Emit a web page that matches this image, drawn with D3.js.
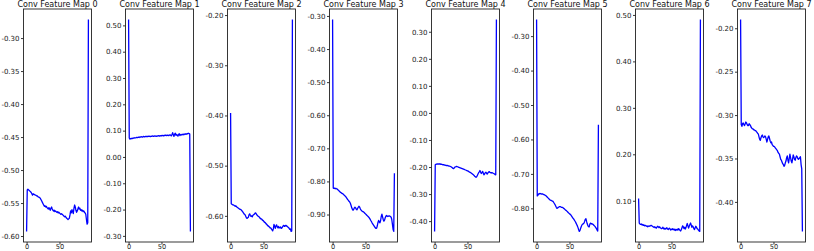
<!DOCTYPE html>
<html><head><meta charset="utf-8">
<script src="https://cdn.jsdelivr.net/npm/d3@7"></script>
<style>body{margin:0;background:#fff}svg{display:block}</style></head>
<body><svg id="c" width="814" height="251"></svg>
<script>
const titles = ["Conv Feature Map 0","Conv Feature Map 1","Conv Feature Map 2","Conv Feature Map 3","Conv Feature Map 4","Conv Feature Map 5","Conv Feature Map 6","Conv Feature Map 7"];
const xTicks = [0, 50];

const series0 = [-0.593,-0.530,-0.529,-0.530,-0.531,-0.532,-0.533,-0.534,-0.536,-0.538,-0.536,-0.537,-0.537,-0.538,-0.538,-0.539,-0.539,-0.540,-0.541,-0.541,-0.542,-0.543,-0.545,-0.547,-0.549,-0.551,-0.553,-0.555,-0.554,-0.556,-0.555,-0.557,-0.558,-0.559,-0.557,-0.559,-0.561,-0.558,-0.556,-0.559,-0.561,-0.562,-0.561,-0.563,-0.562,-0.563,-0.564,-0.563,-0.565,-0.564,-0.565,-0.566,-0.567,-0.566,-0.567,-0.568,-0.569,-0.570,-0.571,-0.570,-0.572,-0.573,-0.574,-0.575,-0.574,-0.573,-0.568,-0.562,-0.565,-0.560,-0.563,-0.566,-0.558,-0.553,-0.556,-0.561,-0.564,-0.562,-0.559,-0.556,-0.559,-0.558,-0.561,-0.560,-0.562,-0.561,-0.563,-0.562,-0.564,-0.565,-0.567,-0.575,-0.582,-0.580,-0.272];
const series1 = [0.522,0.072,0.068,0.070,0.069,0.071,0.070,0.072,0.071,0.073,0.072,0.073,0.074,0.073,0.074,0.075,0.074,0.076,0.075,0.077,0.076,0.075,0.077,0.078,0.076,0.077,0.078,0.077,0.079,0.077,0.078,0.079,0.078,0.077,0.079,0.078,0.079,0.080,0.078,0.079,0.080,0.079,0.078,0.080,0.079,0.080,0.081,0.079,0.080,0.081,0.080,0.082,0.081,0.080,0.082,0.081,0.083,0.082,0.081,0.083,0.082,0.081,0.083,0.084,0.082,0.080,0.085,0.092,0.084,0.078,0.087,0.090,0.082,0.086,0.083,0.079,0.085,0.088,0.081,0.084,0.086,0.083,0.085,0.087,0.084,0.086,0.088,0.086,0.087,0.089,0.088,0.090,0.089,0.087,-0.283];
const series2 = [-0.395,-0.576,-0.577,-0.578,-0.578,-0.579,-0.580,-0.581,-0.580,-0.582,-0.583,-0.584,-0.585,-0.586,-0.587,-0.587,-0.588,-0.590,-0.591,-0.593,-0.595,-0.597,-0.598,-0.601,-0.604,-0.605,-0.604,-0.603,-0.598,-0.596,-0.599,-0.601,-0.600,-0.602,-0.599,-0.598,-0.597,-0.595,-0.594,-0.596,-0.598,-0.600,-0.601,-0.602,-0.603,-0.605,-0.606,-0.606,-0.608,-0.609,-0.610,-0.612,-0.613,-0.614,-0.616,-0.617,-0.619,-0.620,-0.621,-0.622,-0.624,-0.624,-0.626,-0.628,-0.630,-0.626,-0.617,-0.621,-0.625,-0.620,-0.618,-0.622,-0.624,-0.621,-0.624,-0.623,-0.622,-0.625,-0.624,-0.622,-0.620,-0.619,-0.621,-0.620,-0.619,-0.620,-0.621,-0.622,-0.623,-0.625,-0.627,-0.626,-0.631,-0.630,-0.209];
const series3 = [-0.311,-0.820,-0.821,-0.820,-0.822,-0.821,-0.822,-0.823,-0.825,-0.827,-0.829,-0.831,-0.833,-0.834,-0.836,-0.837,-0.838,-0.840,-0.842,-0.844,-0.846,-0.849,-0.852,-0.855,-0.857,-0.860,-0.862,-0.866,-0.872,-0.879,-0.884,-0.887,-0.885,-0.880,-0.878,-0.880,-0.884,-0.886,-0.882,-0.878,-0.875,-0.877,-0.882,-0.886,-0.888,-0.890,-0.891,-0.892,-0.894,-0.896,-0.898,-0.900,-0.902,-0.904,-0.906,-0.908,-0.911,-0.914,-0.918,-0.921,-0.925,-0.928,-0.931,-0.934,-0.937,-0.940,-0.942,-0.941,-0.934,-0.924,-0.918,-0.922,-0.925,-0.918,-0.906,-0.899,-0.907,-0.915,-0.920,-0.917,-0.910,-0.905,-0.903,-0.905,-0.906,-0.905,-0.904,-0.905,-0.906,-0.908,-0.915,-0.930,-0.945,-0.951,-0.775];
const series4 = [-0.438,-0.192,-0.190,-0.189,-0.188,-0.189,-0.188,-0.189,-0.188,-0.190,-0.189,-0.190,-0.191,-0.192,-0.191,-0.193,-0.193,-0.194,-0.195,-0.194,-0.195,-0.196,-0.197,-0.197,-0.198,-0.199,-0.201,-0.203,-0.205,-0.206,-0.203,-0.200,-0.199,-0.198,-0.198,-0.199,-0.200,-0.201,-0.202,-0.203,-0.204,-0.205,-0.206,-0.207,-0.208,-0.209,-0.210,-0.211,-0.212,-0.213,-0.214,-0.215,-0.217,-0.218,-0.220,-0.221,-0.223,-0.225,-0.227,-0.229,-0.231,-0.234,-0.236,-0.238,-0.236,-0.231,-0.226,-0.221,-0.218,-0.213,-0.219,-0.224,-0.221,-0.216,-0.222,-0.229,-0.226,-0.221,-0.219,-0.223,-0.226,-0.222,-0.219,-0.217,-0.219,-0.221,-0.222,-0.221,-0.222,-0.223,-0.224,-0.226,-0.228,-0.229,0.345];
const series5 = [-0.252,-0.764,-0.762,-0.759,-0.757,-0.758,-0.757,-0.758,-0.759,-0.758,-0.759,-0.760,-0.761,-0.762,-0.763,-0.765,-0.767,-0.769,-0.771,-0.773,-0.775,-0.776,-0.777,-0.778,-0.779,-0.780,-0.783,-0.786,-0.789,-0.793,-0.797,-0.800,-0.799,-0.797,-0.796,-0.795,-0.795,-0.796,-0.797,-0.797,-0.798,-0.800,-0.801,-0.803,-0.805,-0.806,-0.808,-0.810,-0.812,-0.814,-0.816,-0.817,-0.819,-0.822,-0.825,-0.828,-0.830,-0.833,-0.836,-0.839,-0.843,-0.847,-0.851,-0.856,-0.862,-0.867,-0.864,-0.858,-0.853,-0.848,-0.846,-0.845,-0.843,-0.838,-0.832,-0.830,-0.838,-0.845,-0.850,-0.853,-0.854,-0.846,-0.843,-0.844,-0.846,-0.845,-0.847,-0.849,-0.851,-0.853,-0.856,-0.859,-0.863,-0.866,-0.557];
const series6 = [0.105,0.052,0.050,0.049,0.050,0.048,0.049,0.047,0.048,0.046,0.047,0.046,0.045,0.046,0.044,0.045,0.046,0.045,0.046,0.047,0.046,0.045,0.044,0.043,0.044,0.042,0.043,0.041,0.043,0.045,0.044,0.042,0.044,0.042,0.041,0.040,0.041,0.043,0.040,0.039,0.041,0.039,0.040,0.042,0.039,0.038,0.040,0.041,0.039,0.037,0.039,0.038,0.040,0.038,0.037,0.039,0.036,0.038,0.037,0.039,0.037,0.040,0.038,0.036,0.035,0.038,0.042,0.046,0.044,0.040,0.043,0.039,0.042,0.047,0.051,0.046,0.041,0.045,0.049,0.052,0.048,0.043,0.046,0.044,0.040,0.038,0.042,0.045,0.043,0.040,0.039,0.037,0.035,0.034,0.490];
const series7 = [-0.190,-0.311,-0.313,-0.310,-0.309,-0.311,-0.312,-0.310,-0.308,-0.309,-0.311,-0.312,-0.312,-0.310,-0.311,-0.312,-0.314,-0.315,-0.316,-0.316,-0.317,-0.317,-0.318,-0.318,-0.319,-0.320,-0.321,-0.322,-0.325,-0.328,-0.329,-0.326,-0.324,-0.323,-0.325,-0.326,-0.325,-0.324,-0.325,-0.328,-0.331,-0.328,-0.325,-0.324,-0.327,-0.330,-0.332,-0.331,-0.334,-0.335,-0.336,-0.336,-0.337,-0.338,-0.339,-0.340,-0.341,-0.343,-0.344,-0.345,-0.348,-0.351,-0.352,-0.354,-0.356,-0.357,-0.359,-0.358,-0.355,-0.353,-0.349,-0.347,-0.352,-0.355,-0.350,-0.345,-0.349,-0.353,-0.355,-0.351,-0.346,-0.348,-0.351,-0.352,-0.349,-0.347,-0.348,-0.350,-0.351,-0.350,-0.349,-0.348,-0.357,-0.362,-0.434];

const yTicks0 = [-0.60,-0.55,-0.50,-0.45,-0.40,-0.35,-0.30];
const yTicks1 = [-0.30,-0.20,-0.10,0.00,0.10,0.20,0.30,0.40,0.50];
const yTicks2 = [-0.60,-0.50,-0.40,-0.30,-0.20];
const yTicks3 = [-0.90,-0.80,-0.70,-0.60,-0.50,-0.40,-0.30];
const yTicks4 = [-0.40,-0.30,-0.20,-0.10,0.00,0.10,0.20,0.30];
const yTicks5 = [-0.80,-0.70,-0.60,-0.50,-0.40,-0.30];
const yTicks6 = [0.10,0.20,0.30,0.40,0.50];
const yTicks7 = [-0.40,-0.35,-0.30,-0.25,-0.20];

const seriesList = [series0,series1,series2,series3,series4,series5,series6,series7];
const tickList = [yTicks0,yTicks1,yTicks2,yTicks3,yTicks4,yTicks5,yTicks6,yTicks7];

const svg = d3.select('#c');
const FONT = 'DejaVu Sans';
const panelTop = 9, panelW = 68, panelH = 233;
const fmt = d => (Math.abs(d) < 1e-9 ? 0 : d).toFixed(2);

seriesList.forEach((s, k) => {
  const left = 23.5 + 102 * k;
  const n = s.length;
  const [mn, mx] = d3.extent(s);
  const py = (mx - mn) * 0.05, px = (n - 1) * 0.05;
  const x = d3.scaleLinear().domain([-px, n - 1 + px]).range([0, panelW]);
  const y = d3.scaleLinear().domain([mn - py, mx + py]).range([panelH, 0]);
  const g = svg.append('g').attr('transform', `translate(${left},${panelTop})`);

  g.append('path').datum(s)
    .attr('d', d3.line().x((d, i) => x(i)).y(d => y(d)))
    .attr('fill', 'none').attr('stroke', '#0000ff').attr('stroke-width', 1.3)
    .attr('stroke-linejoin', 'round');

  const ya = g.append('g').call(d3.axisLeft(y).tickValues(tickList[k]).tickFormat(fmt).tickSize(2.5).tickPadding(1.5));
  const xa = g.append('g').attr('transform', `translate(0,${panelH})`)
    .call(d3.axisBottom(x).tickValues(xTicks).tickFormat(d3.format('d')).tickSize(2.5).tickPadding(0));
  [ya, xa].forEach(a => {
    a.select('.domain').remove();
    a.selectAll('line').attr('stroke', '#222').attr('stroke-width', 0.9);
    a.selectAll('text').attr('font-family', FONT).attr('font-size', '7px').attr('fill', '#1a1a1a');
  });
  xa.selectAll('text').attr('font-size', '6.6px');

  g.append('rect').attr('x', 0).attr('y', 0).attr('width', panelW).attr('height', panelH)
    .attr('fill', 'none').attr('stroke', '#222').attr('stroke-width', 0.9);

  svg.append('text').attr('x', left + panelW / 2).attr('y', 7)
    .attr('text-anchor', 'middle').attr('font-family', FONT).attr('font-size', '8px')
    .attr('fill', '#111').text(titles[k]);
});
</script></body></html>
